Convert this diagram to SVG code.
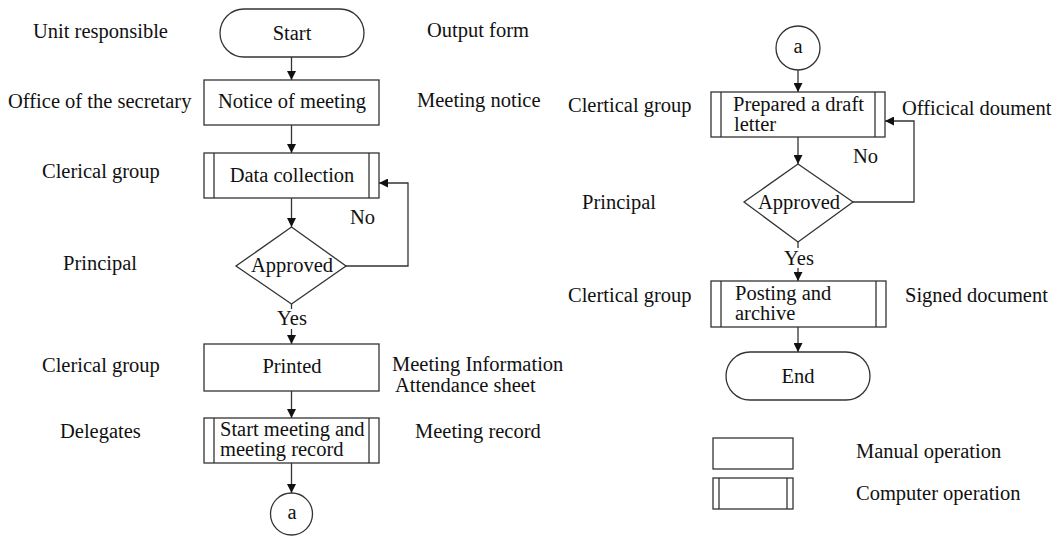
<svg xmlns="http://www.w3.org/2000/svg" width="1056" height="536" viewBox="0 0 1056 536">
<defs>
<style>
text{font-family:"Liberation Serif","Times New Roman",serif;font-size:20.5px;fill:#111}
.c{text-anchor:middle}
.s{fill:#fff;stroke:#333;stroke-width:1.3}
.l{fill:none;stroke:#333;stroke-width:1.3}
</style>
<marker id="ah" viewBox="0 0 10 10" refX="10" refY="5" markerWidth="9" markerHeight="9" markerUnits="userSpaceOnUse" orient="auto">
<path d="M0,0 L10,5 L0,10 z" fill="#111"/>
</marker>
</defs>
<rect width="1056" height="536" fill="#fff"/>

<g id="labels">
<text x="33" y="38">Unit responsible</text>
<text x="8" y="108">Office of the secretary</text>
<text x="42" y="178">Clerical group</text>
<text x="63" y="270">Principal</text>
<text x="42" y="372">Clerical group</text>
<text x="60" y="438">Delegates</text>
<text x="427" y="37">Output form</text>
<text x="417" y="107">Meeting notice</text>
<text x="392" y="371">Meeting Information</text>
<text x="395" y="392">Attendance sheet</text>
<text x="415" y="438">Meeting record</text>
<text x="568" y="112">Clertical group</text>
<text x="582" y="209">Principal</text>
<text x="568" y="302">Clertical group</text>
<text x="902" y="115">Officical doument</text>
<text x="905" y="302">Signed document</text>
</g>

<g id="connectors">
<line class="l" x1="291.5" y1="57" x2="291.5" y2="80" marker-end="url(#ah)"/>
<line class="l" x1="291.5" y1="125" x2="291.5" y2="153" marker-end="url(#ah)"/>
<line class="l" x1="291.5" y1="198" x2="291.5" y2="227" marker-end="url(#ah)"/>
<polyline class="l" points="346,266 408,266 408,183 379,183" marker-end="url(#ah)"/>
<line class="l" x1="291.5" y1="304" x2="291.5" y2="309"/>
<line class="l" x1="291.5" y1="329" x2="291.5" y2="344" marker-end="url(#ah)"/>
<line class="l" x1="291.5" y1="391" x2="291.5" y2="418" marker-end="url(#ah)"/>
<line class="l" x1="291.5" y1="463" x2="291.5" y2="493" marker-end="url(#ah)"/>
<line class="l" x1="798" y1="70" x2="798" y2="92" marker-end="url(#ah)"/>
<line class="l" x1="798" y1="137" x2="798" y2="164" marker-end="url(#ah)"/>
<polyline class="l" points="853,202 914,202 914,121 885,121" marker-end="url(#ah)"/>
<line class="l" x1="798" y1="242" x2="798" y2="248"/>
<line class="l" x1="798" y1="268" x2="798" y2="281" marker-end="url(#ah)"/>
<line class="l" x1="798" y1="327" x2="798" y2="352" marker-end="url(#ah)"/>
<text x="350" y="224">No</text>
<text x="292" y="325" class="c">Yes</text>
<text x="853" y="163">No</text>
<text x="799" y="265" class="c">Yes</text>
</g>

<g id="start">
<rect class="s" x="220" y="9" width="144" height="48" rx="24"/>
<text x="292" y="40" class="c">Start</text>
</g>
<g id="notice">
<rect class="s" x="204" y="80" width="175" height="45"/>
<text x="292" y="108" class="c">Notice of meeting</text>
</g>
<g id="data">
<rect class="s" x="204" y="153" width="175" height="45"/>
<line class="l" x1="214" y1="153" x2="214" y2="198"/>
<line class="l" x1="369" y1="153" x2="369" y2="198"/>
<text x="292" y="182" class="c">Data collection</text>
</g>
<g id="approved1">
<polygon class="s" points="291.5,227 346,266 291.5,304 236,266"/>
<text x="292" y="272" class="c">Approved</text>
</g>
<g id="printed">
<rect class="s" x="204" y="344" width="175" height="47"/>
<text x="292" y="373" class="c">Printed</text>
</g>
<g id="startmeeting">
<rect class="s" x="204" y="418" width="175" height="45"/>
<line class="l" x1="214" y1="418" x2="214" y2="463"/>
<line class="l" x1="369" y1="418" x2="369" y2="463"/>
<text x="220" y="436">Start meeting and</text>
<text x="220" y="456">meeting record</text>
</g>
<g id="conn-a1">
<circle class="s" cx="291.5" cy="514" r="21"/>
<text x="292" y="519" class="c">a</text>
</g>

<g id="conn-a2">
<circle class="s" cx="798" cy="48" r="22"/>
<text x="798" y="53" class="c">a</text>
</g>
<g id="draft">
<rect class="s" x="711" y="92" width="174" height="45"/>
<line class="l" x1="721" y1="92" x2="721" y2="137"/>
<line class="l" x1="875" y1="92" x2="875" y2="137"/>
<text x="733" y="111">Prepared a draft</text>
<text x="734" y="131">letter</text>
</g>
<g id="approved2">
<polygon class="s" points="798,164 853,202 798,242 744,202"/>
<text x="799" y="209" class="c">Approved</text>
</g>
<g id="posting">
<rect class="s" x="711" y="281" width="175" height="46"/>
<line class="l" x1="721" y1="281" x2="721" y2="327"/>
<line class="l" x1="876" y1="281" x2="876" y2="327"/>
<text x="735" y="300">Posting and</text>
<text x="735" y="320">archive</text>
</g>
<g id="end">
<rect class="s" x="726" y="352" width="144" height="48" rx="24"/>
<text x="798" y="383" class="c">End</text>
</g>

<g id="legend">
<rect class="s" x="713" y="438" width="80" height="31"/>
<text x="856" y="458">Manual operation</text>
<rect class="s" x="713" y="478" width="80" height="31"/>
<line class="l" x1="719" y1="478" x2="719" y2="509"/>
<line class="l" x1="787" y1="478" x2="787" y2="509"/>
<text x="856" y="500">Computer operation</text>
</g>
</svg>
